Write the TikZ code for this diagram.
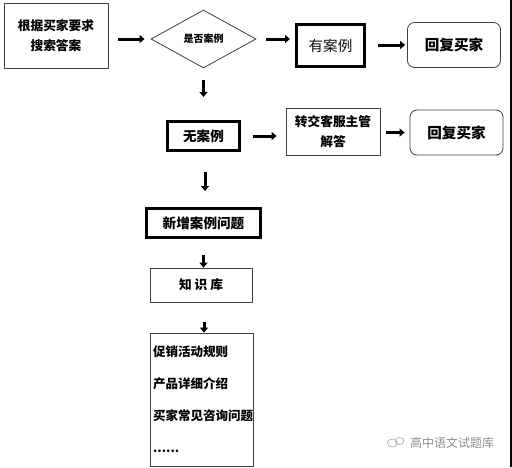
\documentclass[tikz,border=0pt]{standalone}
\usepackage{fontspec}
\newfontfamily\cjk{Noto Sans CJK SC}
\usetikzlibrary{positioning,shapes.geometric,arrows.meta}

\begin{document}
\begin{tikzpicture}[x=1pt,y=-1pt,font=\cjk\bfseries,>={Triangle[length=5pt,width=8pt]}]
  \useasboundingbox (0,0) rectangle (512,467);
  \tikzset{
    thinBox/.style={rectangle,draw=black!75,line width=0.8pt,inner sep=0pt,align=center},
    thickBox/.style={rectangle,draw=black,line width=3pt,inner sep=0pt,align=center},
    replyBox/.style={rectangle,draw=black!75,line width=0.8pt,rounded corners=7pt,inner sep=0pt,
      minimum width=93pt,minimum height=45pt,font=\cjk\bfseries\fontsize{14.6}{16}\selectfont},
    decision/.style={diamond,draw=black!75,line width=0.8pt,inner sep=0pt},
    % arrow styles
    flow/.style={->,line width=3pt},
    %label styles
    mainText/.style={font=\cjk\bfseries\fontsize{12.7}{20}\selectfont},
    caseText/.style={font=\cjk\bfseries\fontsize{13.6}{16}\selectfont}
  }

  %% first row
  \node [thinBox, mainText, minimum width=104pt, minimum height=65pt] (ask) at (56,35.5)
    {根据买家要求\\搜索答案};
  \node [decision, minimum width=105pt, minimum height=58pt,
    font=\cjk\bfseries\fontsize{10}{12}\selectfont] (isCase) at (203.5,39) {是否案例};
  \node [thickBox, minimum width=68pt, minimum height=42pt,
    font=\cjk\fontsize{14.6}{16}\selectfont, text=black!95] (hasCase) at (330.5,45.5) {有案例};
  \node [replyBox] (reply1) at (454,45) {回复买家};

  \draw [flow, shorten <=10pt, shorten >=6pt] (ask.east |- isCase.west) -- (isCase.west);
  \draw [flow, shorten <=10pt, shorten >=5pt] (isCase.east) -- (isCase.east -| hasCase.west);
  \draw [flow, shorten <=12pt, shorten >=2pt] (hasCase.east |- reply1.west) -- (reply1.west);

  %% second row
  \node [thickBox, caseText, minimum width=72pt, minimum height=29pt] (noCase) at (203.5,136) {无案例};
  \node [thinBox, mainText, minimum width=94pt, minimum height=47pt] (transfer) at (333,131.5)
    {转交客服主管\\解答};
  \node [replyBox] (reply2) at (456.5,132.5) {回复买家};

  \draw [flow, shorten <=12pt, shorten >=23pt] (isCase.south) -- (noCase.north);
  \draw [flow, shorten <=12pt, shorten >=9pt] (noCase.east) -- (noCase.east -| transfer.west);
  \draw [flow, shorten <=6pt, shorten >=5pt] (transfer.east |- reply2.west) -- (reply2.west);

  %% knowledge base
  \node [thickBox, caseText, minimum width=114pt, minimum height=29pt] (newCase) at (203.5,223) {新增案例问题};
  \node [thinBox, mainText, minimum width=102pt, minimum height=34pt] (kb) at (201,285) {知\ 识\ 库};
  \node [thinBox, align=left, text width=97pt, minimum height=133pt, inner xsep=3pt,
    font=\cjk\bfseries\fontsize{12.5}{32}\selectfont] (kbList) at (201.5,399.5)
    {促销活动规则\\产品详细介绍\\买家常见咨询问题\\......};

  \draw [flow, shorten <=20pt, shorten >=16pt] ([xshift=1.5pt]noCase.south) -- ([xshift=1.5pt]newCase.north);
  \draw [flow, shorten <=16pt] (newCase.south) -- (newCase.south |- kb.north);
  \draw [flow, shorten <=20pt] ([xshift=3pt]kb.south) -- ([xshift=3pt]kb.south |- kbList.north);

  %% watermark
  \node [font=\cjk\fontsize{12}{14}\selectfont, text=black!45] (mark) at (452,443) {高中语文试题库};
  \draw [black!35, line width=0.6pt] ([xshift=-14pt]mark.west) ellipse (5pt and 4pt);
  \draw [black!35, line width=0.6pt] ([xshift=-7pt,yshift=2pt]mark.west) ellipse (4.5pt and 3.5pt);
  \fill [black] (509.5,0) rectangle (512,467);
\end{tikzpicture}
\end{document}
